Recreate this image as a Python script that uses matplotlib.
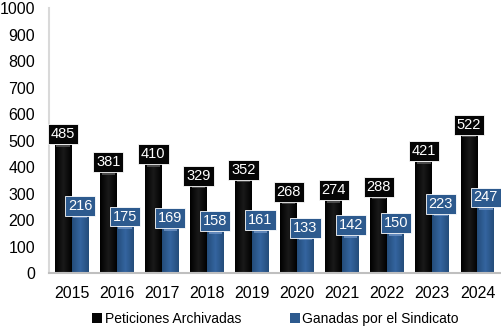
import numpy as np
import matplotlib.pyplot as plt
from matplotlib.colors import LinearSegmentedColormap

plt.rcParams['font.family'] = ['Liberation Sans', 'DejaVu Sans']

years = ['2015', '2016', '2017', '2018', '2019', '2020', '2021', '2022', '2023', '2024']
archivadas = [485, 381, 410, 329, 352, 268, 274, 288, 421, 522]
ganadas = [216, 175, 169, 158, 161, 133, 142, 150, 223, 247]

black = '#050505'
blue = '#2d5a8e'

fig = plt.figure(figsize=(5.01, 3.27), dpi=100)
ax = fig.add_axes([0.098, 0.165, 0.9, 0.81])

x = np.arange(len(years))
w = 0.375
b1 = ax.bar(x - w / 2, archivadas, w, color=black, label='Peticiones Archivadas')
b2 = ax.bar(x + w / 2, ganadas, w, color=blue, label='Ganadas por el Sindicato')

# soft horizontal shading on the bars, like the original 3D-ish fill
grads = [
    (b1, LinearSegmentedColormap.from_list('k', ['#000000', '#1a1a1a', '#000000'])),
    (b2, LinearSegmentedColormap.from_list('b', ['#244c7a', '#3565a0', '#244c7a'])),
]
g = np.linspace(0, 1, 64).reshape(1, -1)
for bars, cm in grads:
    for r in bars:
        x0, h, bw = r.get_x(), r.get_height(), r.get_width()
        im = ax.imshow(g, cmap=cm, aspect='auto', extent=[x0, x0 + bw, 0, h], zorder=2)
        im.set_clip_path(r)
        # lighter cap at the top
        ax.fill_between([x0 + bw * 0.1, x0 + bw * 0.9], h - 9, h - 2,
                        color='#5a5a5a' if bars is b1 else '#6f93c4', lw=0, zorder=3, alpha=0.8)

# value boxes sitting on top of each bar
for bars, fc in [(b1, black), (b2, blue)]:
    for r in bars:
        h = r.get_height()
        ax.text(r.get_x() + r.get_width() / 2, h + 12, str(int(h)), ha='center', va='bottom',
                color='white', fontsize=10.5, zorder=5,
                bbox=dict(boxstyle='square,pad=0.2', fc=fc, ec='white', lw=0.6))

ax.set_xlim(-0.5, 9.5)
ax.set_ylim(0, 1000)
ax.set_yticks(np.arange(0, 1001, 100))
ax.set_xticks(x)
ax.set_xticklabels(years)
ax.tick_params(length=0, labelsize=11.5)
ax.tick_params(axis='x', pad=9)
ax.tick_params(axis='y', pad=10)
for s in ['top', 'right']:
    ax.spines[s].set_visible(False)
ax.spines['left'].set_color('#d9d9d9')
ax.spines['bottom'].set_color('#bfbfbf')
ax.spines['left'].set_linewidth(1.5)
ax.spines['bottom'].set_linewidth(1.5)

fig.legend(handles=[b1, b2], loc='lower center', ncol=2, frameon=False, fontsize=10,
           bbox_to_anchor=(0.55, -0.035), handlelength=0.7, handleheight=0.7,
           handletextpad=0.2, columnspacing=3.5)

fig.savefig('out.png', dpi=100)
